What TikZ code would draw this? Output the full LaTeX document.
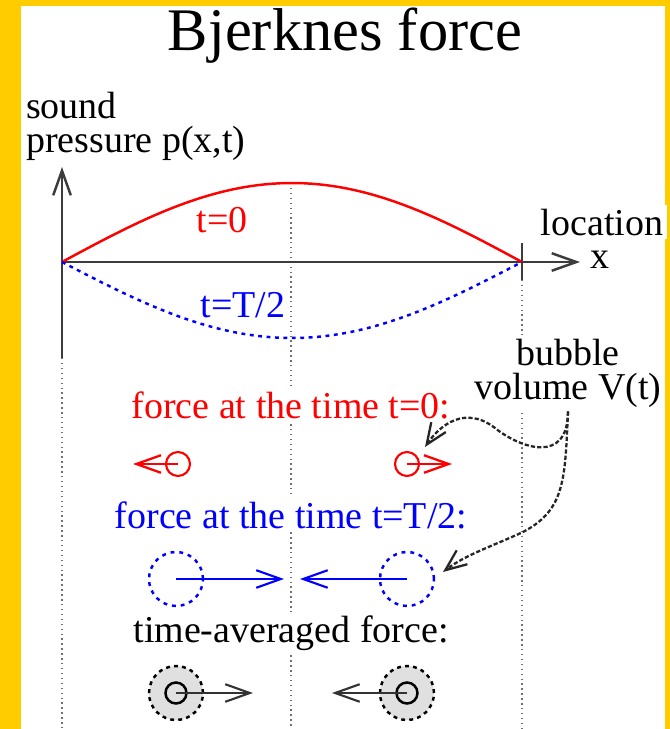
\documentclass[tikz,border=0pt]{standalone}
\usepackage{fontspec}
\setmainfont{Liberation Serif}
\usetikzlibrary{arrows.meta,positioning}
\definecolor{BjYellow}{HTML}{FFCC00}
\definecolor{BjGuide}{HTML}{707070}
\definecolor{BjAxis}{HTML}{3C3C3C}
\definecolor{BjFill}{HTML}{E0E0E0}
\definecolor{BjRed}{HTML}{FF0000}
\definecolor{BjBlue}{HTML}{0000FF}
\tikzset{
  barb/.style={-{Straight Barb[length=7pt,width=5pt]}},
  axisline/.style={draw=BjAxis,line width=.7pt,barb},
  axisbar/.style={draw=BjAxis,line width=.7pt},
  guide/.style={draw=BjGuide,line width=.4pt,densely dotted},
  redwave/.style={draw=BjRed,line width=.7pt},
  bluewave/.style={draw=BjBlue,line width=.7pt,dash pattern=on 1.1pt off 1.3pt},
  lbl/.style={font=\fontsize{10.8}{9.7}\selectfont,inner sep=1pt,fill=white},
  titlefont/.style={font=\fontsize{17.2}{20}\selectfont,inner sep=0pt},
  redbubble/.style={circle,draw=BjRed,line width=.6pt,minimum size=.24cm,inner sep=0pt},
  bluebubble/.style={circle,draw=BjBlue,line width=.7pt,dash pattern=on 1.1pt off 1.4pt,
    minimum size=.54cm,inner sep=0pt},
  avgbubble/.style={circle,draw=black,fill=BjFill,line width=.7pt,dash pattern=on 1.1pt off 1.2pt,
    minimum size=.54cm,inner sep=0pt},
  avgcore/.style={circle,draw=black,line width=.7pt,minimum size=.21cm,inner sep=0pt},
  redforce/.style={draw=BjRed,line width=.65pt,barb},
  blueforce/.style={draw=BjBlue,line width=.6pt,barb},
  avgforce/.style={draw=black!80,line width=.6pt,barb},
  pointer/.style={draw=black!85,line width=.65pt,dash pattern=on 1.2pt off .6pt,
    -{Straight Barb[length=6pt,width=5pt]}}
}
\begin{document}
\begin{tikzpicture}[x=1cm,y=1cm]
  \useasboundingbox (0,0) rectangle (6.70,7.29);
  \fill[BjYellow] (0,0) rectangle (6.70,7.29);
  \fill[white] (0.21,0) rectangle (6.655,7.23);

  % guide lines
  \draw[guide] (0.62,3.71) -- (0.62,0);
  \draw[guide] (2.91,5.46) -- (2.91,0);
  \draw[guide] (5.22,4.49) -- (5.22,0);

  % axes
  \coordinate (O) at (0.62,4.67);
  \coordinate (ytip) at (0.62,5.62);
  \coordinate (xtip) at (5.80,4.67);
  \draw[axisline] (0.62,3.71) -- (ytip);
  \draw[axisline] (O) -- (xtip);
  \draw[axisbar] (5.22,4.86) -- (5.22,4.49);

  % pressure waves
  \draw[redwave] plot[domain=0:180,samples=60] ({0.62+4.60*\x/180},{4.67+0.79*sin(\x)});
  \draw[bluewave] plot[domain=0:180,samples=60] ({0.62+4.60*\x/180},{4.67-0.76*sin(\x)});

  \node[titlefont,anchor=base] (title) at (3.45,6.79) {Bjerknes force};
  \node[lbl,anchor=south west,align=left,font=\fontsize{10.8}{9.6}\selectfont] (ylab) at (0.22,5.64)
    {sound\\pressure p(x,t)};
  \node[lbl,anchor=base] (loc) at (6.02,4.94) {location};
  \node[lbl,anchor=base] (xlab) at (6.00,4.61) {x};
  \node[lbl,text=BjRed] (t0) at (2.22,5.09) {t=0};
  \node[lbl,text=BjBlue] (th) at (2.43,4.24) {t=T/2};
  \node[lbl,align=center] (vol) at (5.68,3.56) {bubble\\volume V(t)};

  \node[lbl,text=BjRed] (row0) at (2.91,3.24) {force at the time t=0:};
  \node[lbl,text=BjBlue] (rowh) at (2.91,2.14) {force at the time t=T/2:};
  \node[lbl] (rowa) at (2.91,0.96) {time-averaged force:};

  % t=0
  \node[redbubble] (b0L) at (1.78,2.65) {};
  \node[redbubble] (b0R) at (4.07,2.65) {};
  \coordinate (f0L) at (1.33,2.65);
  \coordinate (f0R) at (4.52,2.65);
  \draw[redforce] (b0L.center) -- (f0L);
  \draw[redforce] (b0R.center) -- (f0R);

  % t=T/2
  \node[bluebubble] (bhL) at (1.76,1.50) {};
  \node[bluebubble] (bhR) at (4.07,1.50) {};
  \coordinate (fhL) at (2.84,1.50);
  \coordinate (fhR) at (3.00,1.50);
  \draw[blueforce] (bhL.center) -- (fhL);
  \draw[blueforce] (bhR.center) -- (fhR);

  % time average
  \node[avgbubble] (baL) at (1.76,0.36) {};
  \node[avgbubble] (baR) at (4.07,0.36) {};
  \node[avgcore] (caL) at (baL.center) {};
  \node[avgcore] (caR) at (baR.center) {};
  \coordinate (faL) at (2.53,0.36);
  \coordinate (faR) at (3.32,0.36);
  \draw[avgforce] (caL.center) -- (faL);
  \draw[avgforce] (caR.center) -- (faR);

  % pointers from the bubble label
  \coordinate (p0) at (4.25,2.82);
  \coordinate (ph) at (4.43,1.57);
  \draw[pointer] (vol.south) .. controls (5.68,2.64) and (5.20,2.81) .. (4.95,3.01)
    .. controls (4.65,3.24) and (4.40,3.04) .. (p0);
  \draw[pointer] (vol.south) .. controls (5.65,2.49) and (5.65,2.19) .. (5.23,1.97)
    .. controls (4.95,1.84) and (4.65,1.74) .. (ph);
\end{tikzpicture}
\end{document}
